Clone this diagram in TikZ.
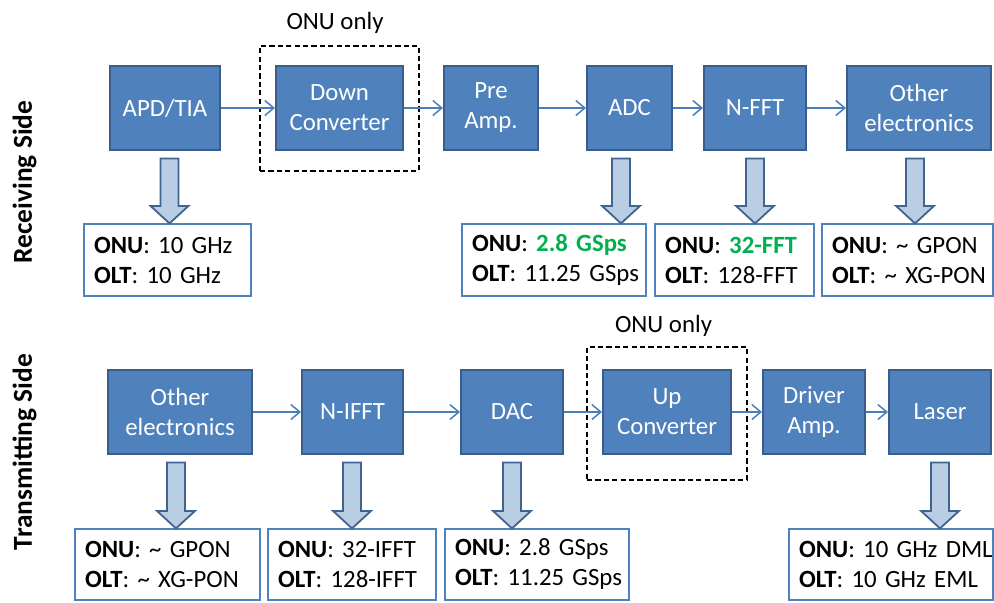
\documentclass[tikz,border=0pt]{standalone}
\usepackage{fontspec}
\setmainfont{Carlito}
\usetikzlibrary{arrows.meta,calc}
\definecolor{boxfill}{HTML}{4F81BD}
\definecolor{boxdraw}{HTML}{385D8A}
\definecolor{afill}{HTML}{B9CDE5}
\definecolor{adraw}{HTML}{41648E}
\definecolor{lineblue}{HTML}{4A7EBB}
\definecolor{grn}{HTML}{00B050}
\frenchspacing
\newcommand\txtfont{\fontsize{12.4}{15}\selectfont}
\newcommand\twolines[2]{\mbox{#1}\\\mbox{#2}}
\newcommand\barrow[3]{%
  \coordinate (bt) at (#3,0 |- #1.south);
  \coordinate (bt) at ($(bt)+(0,7.5)$);
  \coordinate (be) at (#3,0 |- #2.north);
  \draw[barr] ($(bt)+(-9,0)$) -- ($(bt)+(9,0)$) -- ($(be)+(9,-17.5)$) -- ($(be)+(19,-17.5)$) -- (be) -- ($(be)+(-19,-17.5)$) -- ($(be)+(-9,-17.5)$) -- cycle;
}
\tikzset{
  blk/.style={draw=boxdraw, fill=boxfill, line width=1pt, text=white, align=center,
    minimum height=42pt, inner sep=0pt, font=\txtfont},
  lbl/.style={draw=boxfill, line width=0.6pt, fill=white, align=left, inner xsep=5pt,
    inner ysep=0pt, minimum height=36pt, font=\txtfont},
  dbox/.style={draw=black, line width=1pt, dash pattern=on 2.6pt off 1.6pt, inner sep=0pt},
  conn/.style={draw=lineblue, line width=0.75pt, -{Straight Barb[length=4.5pt,width=7.5pt]}},
  barr/.style={draw=adraw, fill=afill, line width=0.9pt, line join=miter},
  side/.style={font=\fontsize{13.7}{16}\selectfont\bfseries, rotate=90, anchor=base},
  note/.style={font=\txtfont, anchor=base}
}
\begin{document}
\begin{tikzpicture}[x=0.5pt, y=-0.5pt]
\useasboundingbox (0,0) rectangle (994,602);

% side labels
\node[side] (rside) at (32,182) {Receiving Side};
\node[side] (tside) at (32,452) {Transmitting Side};

% dashed boxes and notes
\node[dbox, minimum width=79.5pt, minimum height=62.5pt] (dtop) at (339.5,108.5) {};
\node[note] (ntop) at (335,29) {ONU only};
\node[dbox, minimum width=80pt, minimum height=66.5pt] (dbot) at (667,413.5) {};
\node[note] (nbot) at (663.5,332) {ONU only};

% receiving row
\node[blk, minimum width=55pt] (apd) at (165,108) {APD/TIA};
\node[blk, minimum width=63.5pt] (down) at (339.5,108) {Down\\Converter};
\node[blk, minimum width=47pt] (pre) at (491,108) {Pre\\Amp.};
\node[blk, minimum width=42.5pt] (adc) at (629.5,108) {ADC};
\node[blk, minimum width=51pt] (nfft) at (755,108) {N-FFT};
\node[blk, minimum width=72pt] (oth) at (919,108) {Other\\electronics};

\draw[conn] (apd.east) -- (down.west);
\draw[conn] (down.east) -- (pre.west);
\draw[conn] (pre.east) -- (adc.west);
\draw[conn] (adc.east) -- (nfft.west);
\draw[conn] (nfft.east) -- (oth.west);

% receiving labels
\node[lbl, text width=73.5pt] (l1) at (167.5,260) {\twolines{\textbf{ONU}: 10 GHz}{\textbf{OLT}: 10 GHz}};
\node[lbl, text width=82pt] (l2) at (554,260) {\twolines{\textbf{ONU}: \textcolor{grn}{\textbf{2.8 GSps}}}{\textbf{OLT}: 11.25 GSps}};
\node[lbl, text width=69.5pt] (l3) at (734.5,260) {\twolines{\textbf{ONU}: \textcolor{grn}{\textbf{32-FFT}}}{\textbf{OLT}: 128-FFT}};
\node[lbl, text width=75.5pt] (l4) at (907.5,260) {\twolines{\textbf{ONU}: \textasciitilde{} GPON}{\textbf{OLT}: \textasciitilde{} XG-PON}};

\barrow{apd}{l1}{169.5}
\barrow{adc}{l2}{621}
\barrow{nfft}{l3}{755}
\barrow{oth}{l4}{915}

% transmitting row
\node[blk, minimum width=72pt] (oth2) at (180,412) {Other\\electronics};
\node[blk, minimum width=50.5pt] (nifft) at (352.5,412) {N-IFFT};
\node[blk, minimum width=51pt] (dac) at (512,412) {DAC};
\node[blk, minimum width=64pt] (up) at (667,412) {Up\\Converter};
\node[blk, minimum width=51pt] (drv) at (814,412) {Driver\\Amp.};
\node[blk, minimum width=51pt] (laser) at (940,412) {Laser};

\draw[conn] (oth2.east) -- (nifft.west);
\draw[conn] (nifft.east) -- (dac.west);
\draw[conn] (dac.east) -- (up.west);
\draw[conn] (up.east) -- (drv.west);
\draw[conn] (drv.east) -- (laser.west);

% transmitting labels
\node[lbl, text width=82.5pt, minimum height=35.5pt] (b1) at (167.5,564.5) {\twolines{\textbf{ONU}: \textasciitilde{} GPON}{\textbf{OLT}: \textasciitilde{} XG-PON}};
\node[lbl, text width=74pt, minimum height=35.5pt] (b2) at (352,564.5) {\twolines{\textbf{ONU}: 32-IFFT}{\textbf{OLT}: 128-IFFT}};
\node[lbl, text width=82pt, minimum height=35.5pt] (b3) at (537,564.5) {\twolines{\textbf{ONU}: 2.8 GSps}{\textbf{OLT}: 11.25 GSps}};
\node[lbl, text width=92pt, minimum height=35.5pt] (b4) at (891,564.5) {\twolines{\textbf{ONU}: 10 GHz DML}{\textbf{OLT}: 10 GHz EML}};

\barrow{oth2}{b1}{176}
\barrow{nifft}{b2}{352}
\barrow{dac}{b3}{512}
\barrow{laser}{b4}{940}
\end{tikzpicture}
\end{document}
